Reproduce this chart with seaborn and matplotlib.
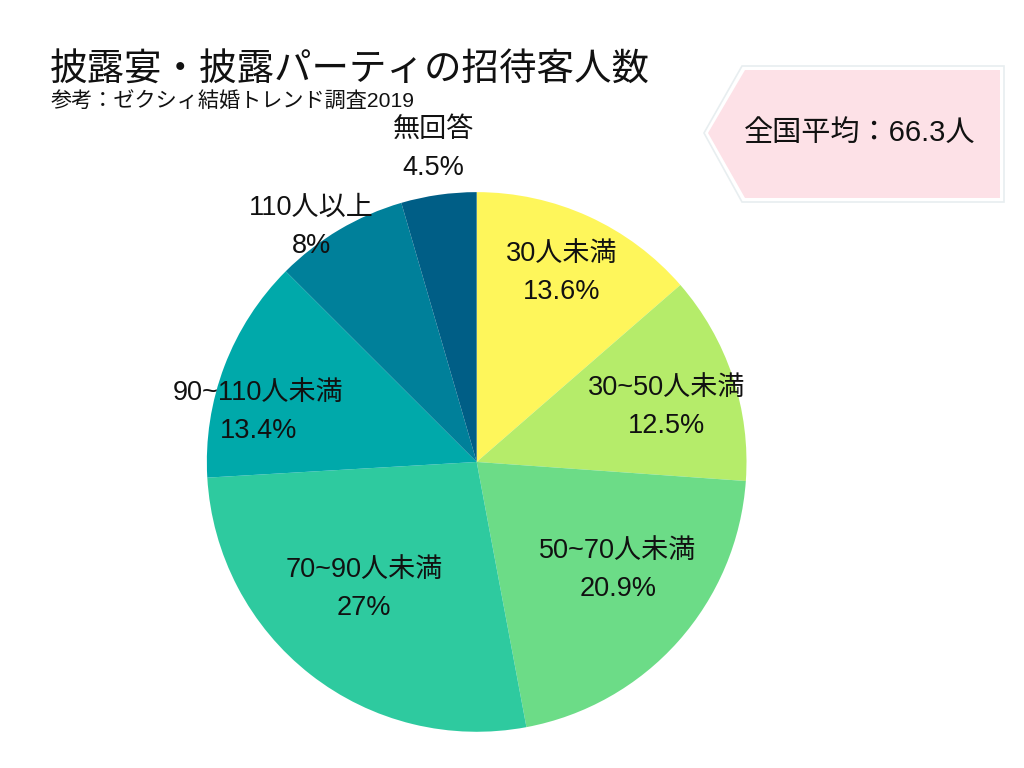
import numpy as np
import matplotlib
matplotlib.use('Agg')
import matplotlib.pyplot as plt
from matplotlib.patches import Polygon
import seaborn as sns

# data
categories = ['30人未満', '30~50人未満', '50~70人未満', '70~90人未満',
              '90~110人未満', '110人以上', '無回答']
shares = [13.6, 12.5, 20.9, 27, 13.4, 8, 4.5]
share_labels = ['13.6%', '12.5%', '20.9%', '27%', '13.4%', '8%', '4.5%']
slice_colors = ['#FEF65B', '#B5EC6A', '#6CDC87', '#2ECA9F',
                '#00A9AA', '#00809A', '#005E86']
# label placement: distance from centre (fraction of radius) and angle nudge (deg)
label_dist = [0.78, 0.737, 0.65, 0.616, 0.833, 1.077, 1.186]
label_nudge = [0.7, -1.2, 5.2, -4.5, 7.0, 4.0, -0.4]

sns.set_theme(style='white')
plt.rcParams['font.family'] = ['Liberation Sans', 'Noto Sans CJK JP', 'DejaVu Sans']

fig = plt.figure(figsize=(10.24, 7.68), dpi=100)
fig.patch.set_facecolor('white')
ax = fig.add_axes([0.202, 0.047, 0.527, 0.703])

wedges, _ = ax.pie(shares, colors=slice_colors, startangle=90, counterclock=False,
                   wedgeprops=dict(linewidth=0))
ax.set_xlim(-1, 1)
ax.set_ylim(-1, 1)
ax.set_aspect('equal')

for w, cat, lab, d, nd in zip(wedges, categories, share_labels, label_dist, label_nudge):
    mid = np.deg2rad((w.theta1 + w.theta2) / 2 + nd)
    x, y = d * np.cos(mid), d * np.sin(mid) - 0.015
    ax.text(x, y, f'{cat}\n{lab}', ha='center', va='center', fontsize=19.5,
            color='#111111', linespacing=1.6, clip_on=False)

fig.text(0.049, 0.908, '披露宴・披露パーティの招待客人数', fontsize=27,
         color='#111111', ha='left', va='center')
fig.text(0.049, 0.868, '参考：ゼクシィ結婚トレンド調査2019', fontsize=15.2,
         color='#111111', ha='left', va='center')

# callout box on the right
W, H = 1024, 768
pts = [(708, 133), (745, 70), (1000, 70), (1000, 198), (745, 198)]
outer = [(x / W, 1 - y / H) for x, y in [(704, 133), (742, 66), (1004, 66), (1004, 202), (742, 202)]]
fig.patches.append(Polygon(outer, closed=True, transform=fig.transFigure,
                           facecolor='white', edgecolor='#E8EEF0', linewidth=1.2))
fig.patches.append(Polygon([(x / W, 1 - y / H) for x, y in pts], closed=True,
                           transform=fig.transFigure, facecolor='#FDE1E7',
                           edgecolor='none'))
fig.text(860 / W, 1 - 133 / H, '全国平均：66.3人', fontsize=21, color='#111111',
         ha='center', va='center')

plt.savefig('out.png', dpi=100)
